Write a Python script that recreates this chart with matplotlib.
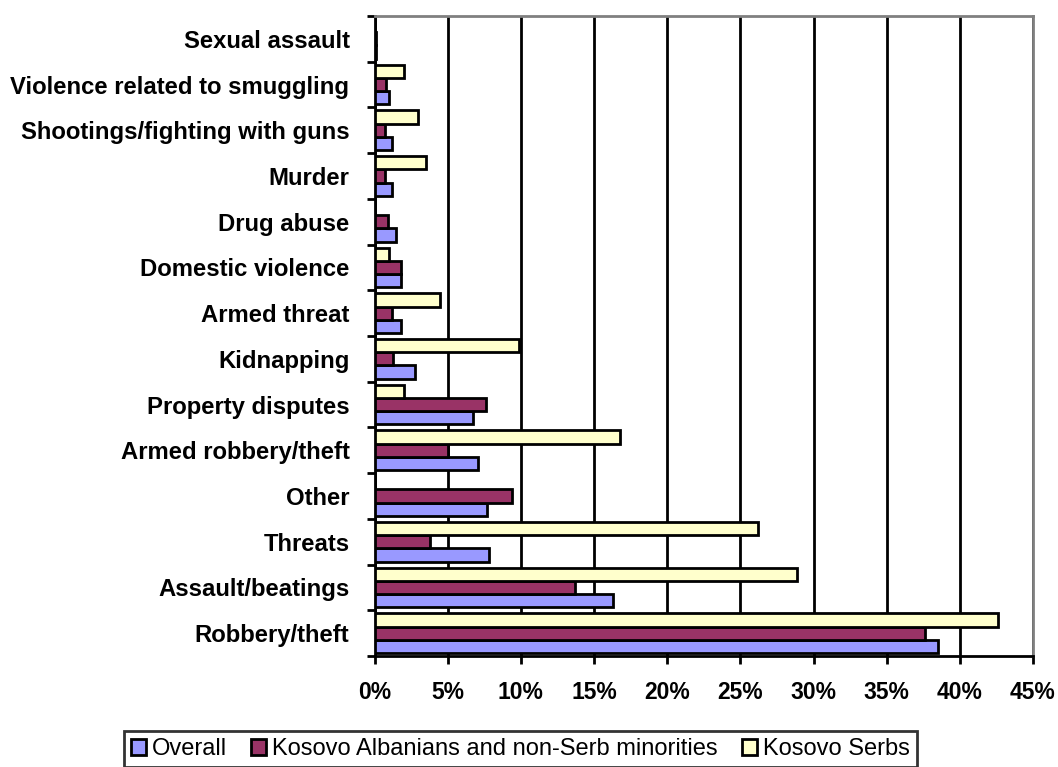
import matplotlib
matplotlib.use("Agg")
from matplotlib import pyplot as plt
from matplotlib.ticker import FixedLocator
import numpy as np

categories = ['Robbery/theft', 'Assault/beatings', 'Threats', 'Other',
              'Armed robbery/theft', 'Property disputes', 'Kidnapping',
              'Armed threat', 'Domestic violence', 'Drug abuse', 'Murder',
              'Shootings/fighting with guns', 'Violence related to smuggling',
              'Sexual assault']

overall = [38.5, 16.3, 7.8, 7.7, 7.1, 6.7, 2.8, 1.8, 1.8, 1.5, 1.2, 1.2, 1.0, 0.1]
albanians = [37.6, 13.7, 3.8, 9.4, 5.0, 7.6, 1.25, 1.2, 1.8, 0.9, 0.7, 0.7, 0.8, 0.1]
serbs = [42.6, 28.9, 26.2, 0.0, 16.8, 2.0, 9.9, 4.5, 1.0, 0.0, 3.5, 3.0, 2.0, 0.0]

series = [('Overall', overall, '#9999FF'),
          ('Kosovo Albanians and non-Serb minorities', albanians, '#993366'),
          ('Kosovo Serbs', serbs, '#FFFFCC')]

plt.rcParams['font.family'] = ['Liberation Sans', 'DejaVu Sans']

fig = plt.figure(figsize=(10.58, 7.67), dpi=100)
ax = fig.add_axes([374.5 / 1058, 1 - 656 / 767, (1033 - 374.5) / 1058, (656 - 16) / 767])

y = np.arange(len(categories))
h = 0.29
for i, (name, vals, col) in enumerate(series):
    ax.barh(y + (i - 1) * h, vals, height=h, color=col, edgecolor='black',
            linewidth=2, label=name, zorder=3)

ax.set_xlim(0, 45)
ax.set_ylim(-0.5, len(categories) - 0.5)
ax.set_xticks(np.arange(0, 46, 5))
ax.set_xticklabels(['%d%%' % v for v in range(0, 46, 5)],
                   fontsize=16.5, fontweight='bold')
ax.xaxis.grid(True, color='black', linewidth=2, zorder=1)

# category labels centred, tick marks on the group boundaries
ax.set_yticks(y)
ax.set_yticklabels(categories, fontsize=17.2, fontweight='bold')
ax.tick_params(axis='y', which='major', length=0, pad=18)
ax.yaxis.set_minor_locator(FixedLocator(np.arange(-0.5, len(categories), 1)))
ax.tick_params(axis='y', which='minor', length=6, width=2, direction='out')
ax.tick_params(axis='x', length=6, width=2, direction='out', pad=12)

for side in ['top', 'right']:
    ax.spines[side].set_color('#808080')
    ax.spines[side].set_linewidth(2)
for side in ['left', 'bottom']:
    ax.spines[side].set_color('black')
    ax.spines[side].set_linewidth(2)

leg = fig.legend(loc='upper left', bbox_to_anchor=(124 / 1058, 1 - 731 / 767), ncol=3,
                 fontsize=17, frameon=True, fancybox=False, edgecolor='black',
                 handlelength=0.65, handleheight=0.65, handletextpad=0.25,
                 columnspacing=1.0, borderpad=0.3, borderaxespad=0)
leg.get_frame().set_linewidth(2)

fig.savefig('out.png', dpi=100)
